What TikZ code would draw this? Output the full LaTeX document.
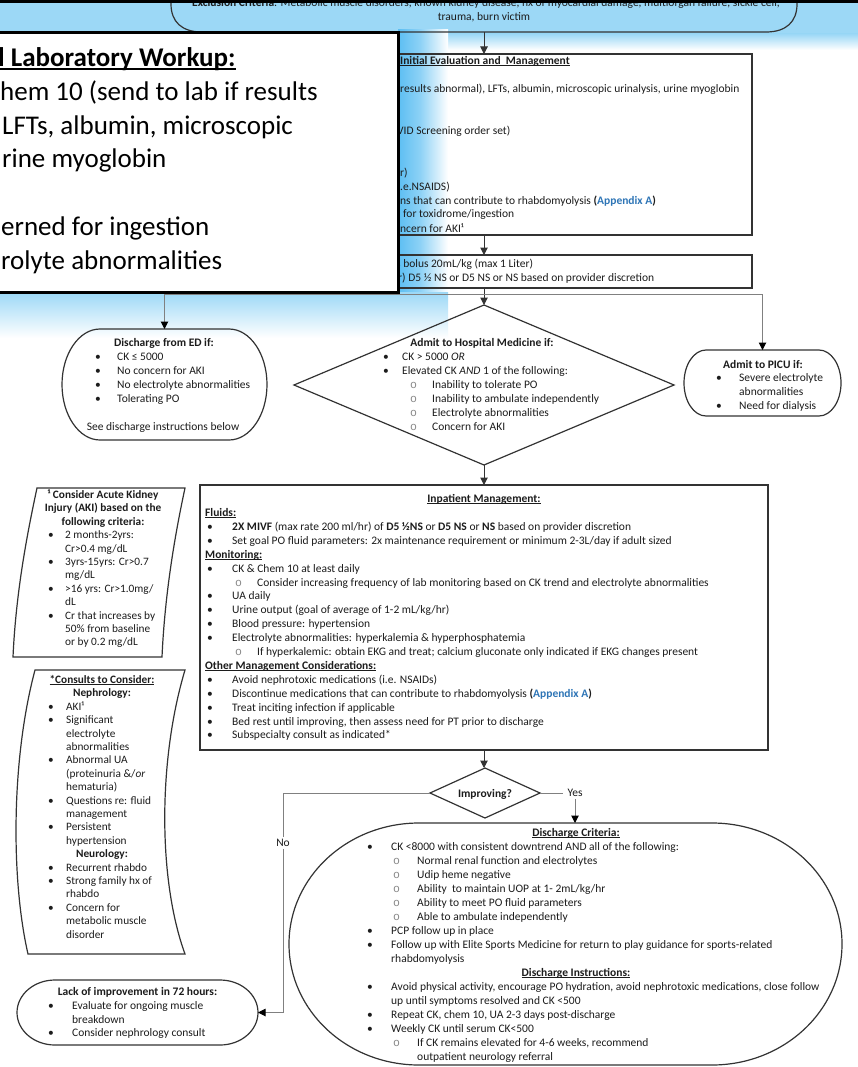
\documentclass[tikz,border=0pt]{standalone}
\usepackage{fontspec}
\setmainfont{Carlito}
\newfontfamily\monof{Liberation Mono}
\usetikzlibrary{arrows.meta,calc}

\definecolor{ink}{HTML}{1C1C1C}
\definecolor{edge}{HTML}{333333}
\definecolor{wire}{HTML}{808080}
\definecolor{band}{RGB}{156,216,246}
\definecolor{glow}{RGB}{92,190,242}
\definecolor{appx}{HTML}{2E75B6}
\definecolor{ring}{HTML}{8A8A8A}

% underline at a fixed depth below the baseline
\newcommand\ulx[1]{\setbox0\hbox{#1}\rlap{\rule[-0.13em]{\wd0}{0.065em}}\box0}
% bullet, continuation and sub-bullet lines
\newcommand\B[2]{\makebox[#1pt][l]{\textbullet}#2}
\newcommand\Cn[2]{\hspace*{#1pt}#2}
\newcommand\Sb[3]{\hspace*{#1pt}\makebox[#2pt][l]{{\monof\color{ring}o}}#3}

% terminator outline with elliptic ends around a named area node
\newcommand\stadium[2]{%
  \draw[box] let \p1=(#1.north west), \p2=(#1.south east), \n1={(\y1-\y2)/2} in
    (\x1+#2pt,\y1) -- (\x2-#2pt,\y1)
    arc[start angle=90, end angle=-90, x radius=#2pt, y radius=\n1*1pt]
    -- (\x1+#2pt,\y2)
    arc[start angle=270, end angle=90, x radius=#2pt, y radius=\n1*1pt] -- cycle;}

\tikzset{
  txt/.style={inner sep=0pt, anchor=base west, text=ink, font=\fontsize{11.5}{13.9}\selectfont},
  ctxt/.style={txt, anchor=base},
  stxt/.style={txt, font=\fontsize{11.3}{13.4}\selectfont},
  sctxt/.style={stxt, anchor=base},
  bigtxt/.style={inner sep=0pt, anchor=base west, text=black, font=\fontsize{27}{33.8}\selectfont},
  area/.style={inner sep=0pt, outer sep=0pt, draw=none},
  box/.style={draw=edge, line width=1.2pt},
  rbox/.style={area, box},
  link/.style={draw=edge, line width=1pt, -{Triangle[length=7.5pt,width=7.5pt]}},
  branch/.style={draw=wire, line width=1pt},
  barrow/.style={branch, -{Triangle[length=7.5pt,width=7.5pt,color=black]}},
  lbl/.style={txt, anchor=center, fill=white, inner xsep=4pt, inner ysep=2pt},
}

\begin{document}
\begin{tikzpicture}[x=1pt,y=-1pt]
\useasboundingbox (0,0) rectangle (858,1067);
\fill[white] (0,0) rectangle (858,1067);

% blue backdrop glow
\fill[band] (0,0) rectangle (858,34);
\shade[top color=band, bottom color=white] (446,34) rectangle (858,50);
\fill[band] (0,34) rectangle (398,300);
\shade[left color=glow, right color=glow!70!white] (398,30) rectangle (420,300);
\shade[left color=glow!70!white, right color=white] (420,30) rectangle (448,300);
\shade[top color=band, bottom color=white] (0,292) rectangle (448,338);

% exclusion criteria
\node[area, minimum width=626pt, minimum height=44pt] (exc) at (484,10) {};
\draw[box] (171,-12) -- (171,4) .. controls (171,22) and (182,32) .. (202,32) -- (766,32)
  .. controls (786,32) and (797,22) .. (797,4) -- (797,-12);
\node[ctxt] (exc1) at (486,7) {\textbf{Exclusion Criteria}: Metabolic muscle disorders, known kidney disease, hx of myocardial damage, multiorgan failure, sickle cell,};
\node[ctxt] (exc2) at (484,21) {trauma, burn victim};

% initial evaluation
\node[rbox, minimum width=536pt, minimum height=181pt] (init) at (484,144.5) {};
\draw[link] (exc.south) -- (init.north);
\node[txt] (ini0) at (400,64.5) {\ulx{\textbf{Initial Evaluation and~ Management}}};
\node[txt] (ini1) at (400,92.5) {results abnormal), LFTs, albumin, microscopic urinalysis, urine myoglobin};
\node[txt] (ini2) at (397,134.2) {VID Screening order set)};
\node[txt] (ini3) at (400,176.2) {r)};
\node[txt] (ini4) at (400,190.2) {.e.NSAIDS)};
\node[txt] (ini5) at (400,204.2) {ns that can contribute to rhabdomyolysis \textbf{(\textcolor{appx}{Appendix A})}};
\node[txt] (ini6) at (403,217.8) {for toxidrome/ingestion};
\node[txt] (ini7) at (400,232.2) {ncern for AKI¹};

% fluids
\node[rbox, minimum width=536pt, minimum height=33pt] (fluid) at (484,271.5) {};
\draw[link] (init.south) -- (fluid.north);
\node[txt] (flu1) at (396,267) {s bolus 20mL/kg (max 1 Liter)};
\node[txt] (flu2) at (398,281.5) {r) D5 ½ NS or D5 NS or NS based on provider discretion};

% disposition
\node[area, minimum width=380pt, minimum height=160pt] (adm) at (484,385) {};
\draw[box] (adm.north) -- (adm.east) -- (adm.south) -- (adm.west) -- cycle;
\node[area, minimum width=205pt, minimum height=111pt] (ed) at (164.5,384.5) {};
\stadium{ed}{38}
\node[area, minimum width=157pt, minimum height=66pt] (picu) at (762.5,383) {};
\stadium{picu}{22}
\coordinate (split) at (484,294);
\draw[link] (fluid.south) -- (adm.north);
\draw[barrow] (split) -| (ed.north);
\draw[barrow] (split) -| (picu.north);

\node[ctxt] (edT) at (164,346.5) {\textbf{Discharge from ED if:}};
\foreach \s [count=\n] in {{CK ≤ 5000},{No concern for AKI},{No electrolyte abnormalities},{Tolerating PO}}
  \node[txt] (ed\n) at (95,{360.5+14*(\n-1)}) {\B{22}{\s}};
\node[ctxt] (edF) at (163,430.5) {See discharge instructions below};

\node[ctxt] (admT) at (482,346.5) {\textbf{Admit to Hospital Medicine if:}};
\node[txt] (adm1) at (383,360.5) {\B{19}{CK > 5000 \textit{OR}}};
\node[txt] (adm2) at (383,374.5) {\B{19}{Elevated CK \textit{AND} 1 of the following:}};
\foreach \s [count=\n] in {{Inability to tolerate PO},{Inability to ambulate independently},{Electrolyte abnormalities},{Concern for AKI}}
  \node[txt] (admS\n) at (383,{388.5+14*(\n-1)}) {\Sb{27}{22}{\s}};

\node[ctxt] (picuT) at (763,368.5) {\textbf{Admit to PICU if:}};
\node[txt] (picu1) at (716,381.5) {\B{23}{Severe electrolyte}};
\node[txt] (picu2) at (716,395.5) {\Cn{23}{abnormalities}};
\node[txt] (picu3) at (716,409.5) {\B{23}{Need for dialysis}};

% inpatient management
\node[rbox, minimum width=568pt, minimum height=265pt] (inp) at (484,617.5) {};
\draw[link] (adm.south) -- (inp.north);
\node[ctxt] (inpT) at (484,502.5) {\ulx{\textbf{Inpatient Management:}}};
\foreach \s [count=\n] in {
  {\hspace*{-2pt}\ulx{\textbf{Fluids:}}},
  {\B{25}{\textbf{2X MIVF} (max rate 200 ml/hr) of \textbf{D5 ½NS} or \textbf{D5 NS} or \textbf{NS} based on provider discretion}},
  {\B{25}{Set goal PO fluid parameters: 2x maintenance requirement or minimum 2-3L/day if adult sized}},
  {\hspace*{-2pt}\ulx{\textbf{Monitoring:}}},
  {\B{25}{CK \& Chem 10 at least daily}},
  {\Sb{28}{22}{Consider increasing frequency of lab monitoring based on CK trend and electrolyte abnormalities}},
  {\B{25}{UA daily}},
  {\B{25}{Urine output (goal of average of 1-2 mL/kg/hr)}},
  {\B{25}{Blood pressure: hypertension}},
  {\B{25}{Electrolyte abnormalities: hyperkalemia \& hyperphosphatemia}},
  {\Sb{28}{22}{If hyperkalemic: obtain EKG and treat; calcium gluconate only indicated if EKG changes present}},
  {\hspace*{-2pt}\ulx{\textbf{Other Management Considerations:}}},
  {\B{25}{Avoid nephrotoxic medications (i.e. NSAIDs)}},
  {\B{25}{Discontinue medications that can contribute to rhabdomyolysis \textbf{(\textcolor{appx}{Appendix A})}}},
  {\B{25}{Treat inciting infection if applicable}},
  {\B{25}{Bed rest until improving, then assess need for PT prior to discharge}},
  {\B{25}{Subspecialty consult as indicated*}}}
  \node[txt] (inp\n) at (207,{516.5+13.9*(\n-1)}) {\s};

% improving decision
\node[area, minimum width=110pt, minimum height=50pt] (imp) at (485,793) {};
\draw[box] (imp.north) -- (imp.east) -- (imp.south) -- (imp.west) -- cycle;
\draw[link] (inp.south) -- (inp.south |- imp.north);
\node[ctxt] (impT) at (485,797) {\textbf{Improving?}};

% discharge criteria
\node[area, minimum width=553pt, minimum height=242pt] (crit) at (565.5,944) {};
\stadium{crit}{130}
\node[lbl] (yes) at (575,793) {Yes};
\draw[branch] (imp.east) -- (yes.west);
\draw[barrow] (yes.south) -- (yes.south |- crit.north);
\node[ctxt] (critT) at (576,836.5) {\ulx{\textbf{Discharge Criteria:}}};
\node[ctxt] (instT) at (576,976.5) {\ulx{\textbf{Discharge Instructions:}}};
\foreach \s [count=\n] in {
  {\B{24}{CK <8000 with consistent downtrend AND all of the following:}},
  {\Sb{26}{24}{Normal renal function and electrolytes}},
  {\Sb{26}{24}{Udip heme negative}},
  {\Sb{26}{24}{Ability~ to maintain UOP at 1- 2mL/kg/hr}},
  {\Sb{26}{24}{Ability to meet PO fluid parameters}},
  {\Sb{26}{24}{Able to ambulate independently}},
  {\B{24}{PCP follow up in place}},
  {\B{24}{Follow up with Elite Sports Medicine for return to play guidance for sports-related}},
  {\Cn{24}{rhabdomyolysis}},
  {},
  {\B{24}{Avoid physical activity, encourage PO hydration, avoid nephrotoxic medications, close follow}},
  {\Cn{24}{up until symptoms resolved and CK <500}},
  {\B{24}{Repeat CK, chem 10, UA 2-3 days post-discharge}},
  {\B{24}{Weekly CK until serum CK<500}},
  {\Sb{26}{24}{If CK remains elevated for 4-6 weeks, recommend}},
  {\Cn{50}{outpatient neurology referral}}}
  \node[txt] (crit\n) at (367,{850.5+14*(\n-1)}) {\s};

% lack of improvement
\node[area, minimum width=241pt, minimum height=65pt] (lack) at (137.5,1012.5) {};
\stadium{lack}{38}
\node[lbl] (no) at (283,843) {No};
\draw[branch] (imp.west) -| (no.north);
\draw[barrow] (no.south) |- (lack.east);
\node[ctxt] (lackT) at (137.5,995.5) {\textbf{Lack of improvement in 72 hours:}};
\node[txt] (lack1) at (48,1009.5) {\B{24}{Evaluate for ongoing muscle}};
\node[txt] (lack2) at (48,1023) {\Cn{24}{breakdown}};
\node[txt] (lack3) at (48,1036.5) {\B{24}{Consider nephrology consult}};

% AKI criteria note
\draw[box] (37,488) -- (185,488) .. controls (176,530) and (165,590) .. (162,657)
  -- (13,657) .. controls (16,590) and (28,530) .. (37,488) -- cycle;
\node[sctxt] (aki1) at (103,498.5) {\textbf{¹ Consider Acute Kidney}};
\node[sctxt] (aki2) at (103,511.9) {\textbf{Injury (AKI) based on the}};
\node[sctxt] (aki3) at (103,525.3) {\textbf{following criteria:}};
\foreach \s [count=\n] in {{\B{17}{2 months-2yrs:}},{\Cn{17}{Cr>0.4 mg/dL}},{\B{17}{3yrs-15yrs: Cr>0.7}},{\Cn{17}{mg/dL}},{\B{17}{>16 yrs: Cr>1.0mg/}},{\Cn{17}{dL}},{\B{17}{Cr that increases by}},{\Cn{17}{50\% from baseline}},{\Cn{17}{or by 0.2 mg/dL}}}
  \node[stxt] (akiL\n) at (48,{538.7+13.4*(\n-1)}) {\s};

% consults note
\draw[box] (35,670) -- (185,670) .. controls (158,760) and (158,880) .. (185,954)
  -- (28,954) .. controls (11,880) and (11,760) .. (35,670) -- cycle;
\node[sctxt] (con1) at (102,683.5) {\ulx{\textbf{*Consults to Consider:}}};
\node[sctxt] (con2) at (102,696.9) {\textbf{Nephrology:}};
\foreach \s [count=\n] in {{\B{18}{AKI¹}},{\B{18}{Significant}},{\Cn{18}{electrolyte}},{\Cn{18}{abnormalities}},{\B{18}{Abnormal UA}},{\Cn{18}{(proteinuria \&/\textit{or}}},{\Cn{18}{hematuria)}},{\B{18}{Questions re: fluid}},{\Cn{18}{management}},{\B{18}{Persistent}},{\Cn{18}{hypertension}}}
  \node[stxt] (conN\n) at (48,{710.3+13.4*(\n-1)}) {\s};
\node[sctxt] (con3) at (102,857.7) {\textbf{Neurology:}};
\foreach \s [count=\n] in {{\B{18}{Recurrent rhabdo}},{\B{18}{Strong family hx of}},{\Cn{18}{rhabdo}},{\B{18}{Concern for}},{\Cn{18}{metabolic muscle}},{\Cn{18}{disorder}}}
  \node[stxt] (conR\n) at (48,{871.1+13.4*(\n-1)}) {\s};

% laboratory workup pop-up
\node[draw=black, line width=3pt, fill=white, inner sep=0pt, minimum width=412pt, minimum height=259pt] (pop) at (192,162.5) {};
\node[bigtxt] (pop1) at (-2,66.5) {\ulx{\textbf{l Laboratory Workup:}}};
\node[bigtxt] (pop2) at (0,100.3) {hem 10 (send to lab if results};
\node[bigtxt] (pop3) at (2,134.1) {LFTs, albumin, microscopic};
\node[bigtxt] (pop4) at (2,167.9) {rine myoglobin};
\node[bigtxt] (pop5) at (1,235.5) {erned for ingestion};
\node[bigtxt] (pop6) at (1,269.3) {rolyte abnormalities};

% top window edge
\fill[black] (0,0) rectangle (858,3);
\end{tikzpicture}
\end{document}
